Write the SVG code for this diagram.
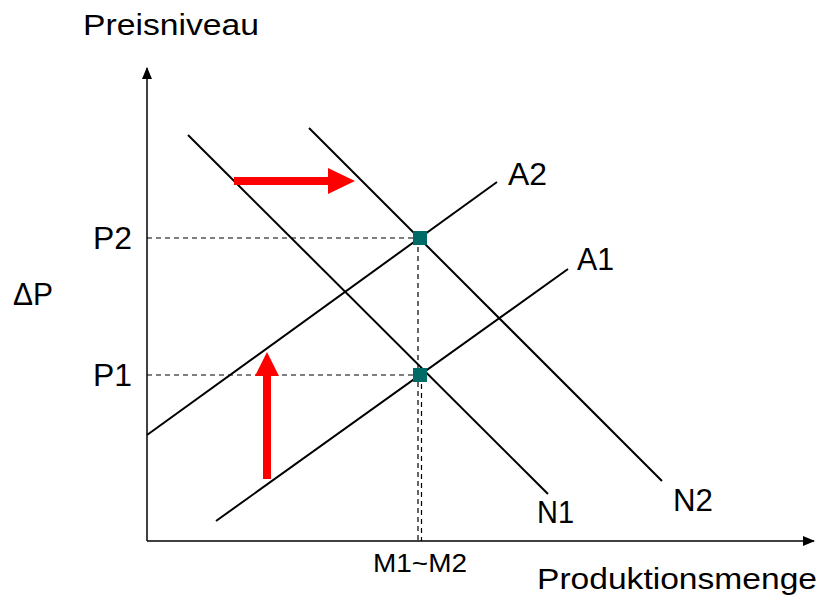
<svg xmlns="http://www.w3.org/2000/svg" width="824" height="600" viewBox="0 0 824 600">
<style>
.t{font-family:"Liberation Sans",Arial,sans-serif;fill:#000}
.big{font-size:30px}
.lab{font-size:31px}
.ln{stroke:#000;stroke-width:2;fill:none}
.ax{stroke:#000;stroke-width:1.5;fill:none}
.da{stroke:#000;stroke-width:1.2;stroke-dasharray:5,4;fill:none}
.pt{fill:#006a66}
.red{fill:#ff0000}
</style>
<defs>
<marker id="ah" markerWidth="12" markerHeight="10" refX="11" refY="5" orient="auto" markerUnits="userSpaceOnUse">
<path d="M0,0 L12,5 L0,10 Z" fill="#000"/>
</marker>
</defs>
<g id="axes">
<line class="ax" x1="147" y1="541" x2="147" y2="68" marker-end="url(#ah)"/>
<line class="ax" x1="147" y1="541" x2="814" y2="541" marker-end="url(#ah)"/>
</g>
<g id="connectors">
<line class="da" x1="147" y1="238" x2="420" y2="238"/>
<line class="da" x1="147" y1="375" x2="420" y2="375"/>
<line class="da" x1="418" y1="238" x2="418" y2="541"/>
<line class="da" x1="421.5" y1="375" x2="421.5" y2="541"/>
</g>
<g id="N1"><line class="ln" x1="188" y1="135" x2="548" y2="494"/></g>
<g id="N2"><line class="ln" x1="309" y1="128" x2="662" y2="481"/></g>
<g id="A1"><line class="ln" x1="216" y1="521" x2="568" y2="269"/></g>
<g id="A2"><line class="ln" x1="147" y1="435" x2="497" y2="182"/></g>
<g id="points">
<rect class="pt" x="413" y="231" width="14" height="14"/>
<rect class="pt" x="413" y="368" width="14" height="14"/>
</g>
<g id="shift-arrows">
<path class="red" d="M234,177 L328,177 L328,168 L355,181 L328,194 L328,185 L234,185 Z"/>
<path class="red" d="M263,479 L263,376 L255,376 L267,352 L279,376 L271,376 L271,479 Z"/>
</g>
<g id="labels">
<text class="t big" x="83" y="35" textLength="176" lengthAdjust="spacingAndGlyphs">Preisniveau</text>
<text class="t big" x="537" y="589" textLength="280" lengthAdjust="spacingAndGlyphs">Produktionsmenge</text>
<text class="t lab" x="13" y="305" textLength="40" lengthAdjust="spacingAndGlyphs">ΔP</text>
<text class="t lab" x="93" y="249" textLength="39" lengthAdjust="spacingAndGlyphs">P2</text>
<text class="t lab" x="93" y="386" textLength="39" lengthAdjust="spacingAndGlyphs">P1</text>
<text class="t lab" x="508" y="185" textLength="39" lengthAdjust="spacingAndGlyphs">A2</text>
<text class="t lab" x="577" y="270" textLength="37" lengthAdjust="spacingAndGlyphs">A1</text>
<text class="t lab" x="537" y="523" textLength="37" lengthAdjust="spacingAndGlyphs">N1</text>
<text class="t lab" x="673" y="511" textLength="40" lengthAdjust="spacingAndGlyphs">N2</text>
<text class="t" font-size="26" x="373" y="572" textLength="94" lengthAdjust="spacingAndGlyphs">M1~M2</text>
</g>
</svg>
